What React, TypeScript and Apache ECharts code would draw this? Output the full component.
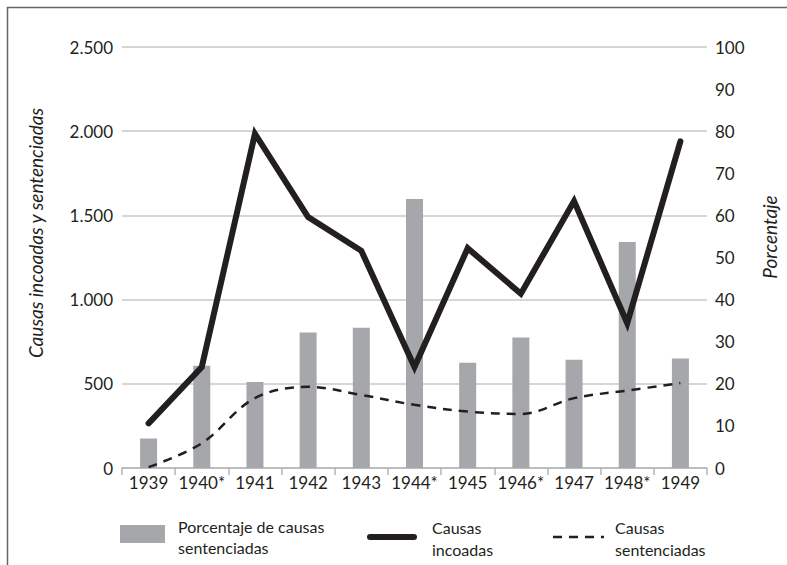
import React, { useEffect, useRef } from "react";
import * as echarts from "echarts";

const years = ["1939", "1940*", "1941", "1942", "1943", "1944*", "1945", "1946*", "1947", "1948*", "1949"];
const porcentajeSentenciadas = [7, 24.3, 20.4, 32.2, 33.3, 63.9, 25, 31, 25.7, 53.7, 26];
const causasIncoadas = [265, 600, 1985, 1490, 1290, 600, 1305, 1035, 1585, 860, 1940];
const causasSentenciadas = [5, 147, 415, 482, 434, 375, 335, 321, 415, 460, 504];
const leftTicks = { min: 0, max: 2500, interval: 500 };
const rightTicks = { min: 0, max: 100, interval: 10 };

const FONT = "Lato, 'Open Sans', sans-serif";
const INK = "#231f20";
const BAR = "#a6a7aa";

function fmtThousands(v: number): string {
  return String(v).replace(/\B(?=(\d{3})+(?!\d))/g, ".");
}

export default function App() {
  const ref = useRef<HTMLDivElement>(null);
  useEffect(() => {
    if (!ref.current) return;
    const chart = echarts.init(ref.current, null, { renderer: "svg" });
    chart.setOption({
      animation: false,
      backgroundColor: "#ffffff",
      textStyle: { fontFamily: FONT, color: INK },
      grid: { left: 122, right: 80, top: 47, bottom: 97 },
      xAxis: {
        type: "category",
        data: years,
        boundaryGap: true,
        axisLine: { show: true, lineStyle: { color: "#b5b5b5", width: 1.5 } },
        axisTick: { show: true, length: 7, lineStyle: { color: "#b5b5b5", width: 1.5 } },
        axisLabel: { color: INK, fontSize: 17, fontFamily: FONT, margin: 6, interval: 0 },
      },
      yAxis: [
        {
          type: "value",
          min: leftTicks.min,
          max: leftTicks.max,
          interval: leftTicks.interval,
          axisLine: { show: false },
          axisTick: { show: false },
          splitLine: { show: true, lineStyle: { color: "#c8c8c8", width: 1.5 } },
          axisLabel: {
            color: INK,
            fontSize: 17,
            fontFamily: FONT,
            margin: 9,
            formatter: (v: number) => fmtThousands(v),
          },
        },
        {
          type: "value",
          min: rightTicks.min,
          max: rightTicks.max,
          interval: rightTicks.interval,
          position: "right",
          axisLine: { show: false },
          axisTick: { show: false },
          splitLine: { show: false },
          axisLabel: { color: INK, fontSize: 17, fontFamily: FONT, margin: 8 },
        },
      ],
      series: [
        {
          name: "Porcentaje de causas sentenciadas",
          type: "bar",
          yAxisIndex: 1,
          data: porcentajeSentenciadas,
          barWidth: 17,
          itemStyle: { color: BAR },
        },
        {
          name: "Causas sentenciadas",
          type: "line",
          yAxisIndex: 0,
          data: causasSentenciadas,
          symbol: "none",
          smooth: 0.35,
          lineStyle: { color: INK, width: 2.5, type: [9, 7] },
          z: 3,
        },
        {
          name: "Causas incoadas",
          type: "line",
          yAxisIndex: 0,
          data: causasIncoadas,
          symbol: "none",
          lineStyle: { color: INK, width: 6, cap: "round", join: "miter", miterLimit: 10 },
          z: 4,
        },
      ],
      graphic: [
        {
          type: "polyline",
          shape: { points: [[7.5, 565], [7.5, 7.5], [787, 7.5]] },
          style: { stroke: "#666666", lineWidth: 1.5, fill: null },
        },
        {
          type: "text",
          x: 35,
          y: 233,
          rotation: Math.PI / 2,
          style: {
            text: "Causas incoadas y sentenciadas",
            font: `italic 19px ${FONT}`,
            fill: INK,
            align: "center",
            verticalAlign: "middle",
          },
        },
        {
          type: "text",
          x: 769,
          y: 237,
          rotation: Math.PI / 2,
          style: {
            text: "Porcentaje",
            font: `italic 19px ${FONT}`,
            fill: INK,
            align: "center",
            verticalAlign: "middle",
          },
        },
        {
          type: "rect",
          shape: { x: 120, y: 525, width: 45, height: 18 },
          style: { fill: BAR },
        },
        {
          type: "text",
          x: 178,
          y: 537,
          style: {
            text: "Porcentaje de causas\nsentenciadas",
            font: `16px ${FONT}`,
            lineHeight: 21,
            fill: INK,
            align: "left",
            verticalAlign: "middle",
          },
        },
        {
          type: "line",
          shape: { x1: 370, y1: 537, x2: 414, y2: 537 },
          style: { stroke: INK, lineWidth: 6, lineCap: "round" },
        },
        {
          type: "text",
          x: 432,
          y: 538,
          style: {
            text: "Causas\nincoadas",
            font: `16px ${FONT}`,
            lineHeight: 22,
            fill: INK,
            align: "left",
            verticalAlign: "middle",
          },
        },
        {
          type: "line",
          shape: { x1: 553, y1: 537, x2: 604, y2: 537 },
          style: { stroke: INK, lineWidth: 2.5, lineDash: [9, 7] },
        },
        {
          type: "text",
          x: 615,
          y: 538,
          style: {
            text: "Causas\nsentenciadas",
            font: `16px ${FONT}`,
            lineHeight: 22,
            fill: INK,
            align: "left",
            verticalAlign: "middle",
          },
        },
      ],
    });
    return () => chart.dispose();
  }, []);
  return (
    <div
      ref={ref}
      style={{ position: "fixed", left: 0, top: 0, width: 787, height: 565, background: "#fff" }}
    />
  );
}
